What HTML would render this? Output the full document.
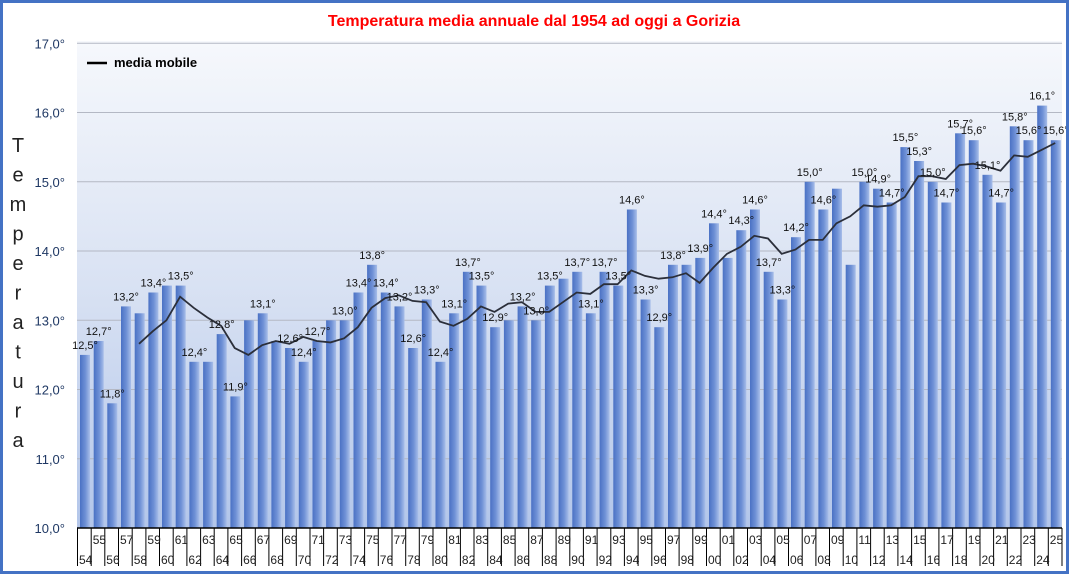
<!DOCTYPE html>
<html><head><meta charset="utf-8"><style>
html,body{margin:0;padding:0;background:#fff}
#w{position:relative;width:1069px;height:574px;overflow:hidden}
svg text{font-family:"Liberation Sans",sans-serif}
</style></head><body><div id="w">
<svg id="s" width="1069" height="574" xmlns="http://www.w3.org/2000/svg">
<defs>
<linearGradient id="bg" x1="0" y1="0" x2="0" y2="1"><stop offset="0" stop-color="#f6f8fc"/><stop offset="0.5" stop-color="#d9e2f3"/><stop offset="1" stop-color="#b3c6ea"/></linearGradient>
<linearGradient id="bar" x1="0" y1="0" x2="1" y2="0"><stop offset="0" stop-color="#4a71c4"/><stop offset="0.55" stop-color="#6f91d6"/><stop offset="1" stop-color="#a8bee9"/></linearGradient>
</defs>
<rect x="0" y="0" width="1069" height="574" fill="#fff"/>
<rect x="77" y="41" width="985" height="487" fill="url(#bg)"/>
<g id="g"></g>
<rect x="1.5" y="1.5" width="1066" height="571" fill="none" stroke="#4472c4" stroke-width="3"/>
<text x="534" y="26" text-anchor="middle" font-size="16" font-weight="bold" fill="#ff0000">Temperatura media annuale dal 1954 ad oggi a Gorizia</text>
<line x1="87" y1="63" x2="107" y2="63" stroke="#000" stroke-width="2.5"/>
<text x="114" y="67" font-size="13" font-weight="bold" fill="#000">media mobile</text>
</svg></div>
<script>
var v=[12.5,12.7,11.8,13.2,13.1,13.4,13.5,13.5,12.4,12.4,12.8,11.9,13.0,13.1,12.7,12.6,12.4,12.7,13.0,13.0,13.4,13.8,13.4,13.2,12.6,13.3,12.4,13.1,13.7,13.5,12.9,13.0,13.2,13.0,13.5,13.6,13.7,13.1,13.7,13.5,14.6,13.3,12.9,13.8,13.8,13.9,14.4,13.9,14.3,14.6,13.7,13.3,14.2,15.0,14.6,14.9,13.8,15.0,14.9,14.7,15.5,15.3,15.0,14.7,15.7,15.6,15.1,14.7,15.8,15.6,16.1,15.6];
var nolab=[1958,1960,1963,1966,1968,1972,1985,1989,1998,2001,2009,2010];
var x0=77.5,st=(1062-77.5)/72;
function Y(t){return 528-(t-10)*69.25;}
var h='';
for(var t=10;t<=17;t++){var y=Y(t);
 if(t>10)h+='<line x1="77" x2="1062" y1="'+y+'" y2="'+y+'" stroke="#b4b8c4" stroke-width="1"/>';
 h+='<text x="65" y="'+(y+5)+'" text-anchor="end" font-size="13" fill="#1f3864">'+t+',0°</text>';}
var L='Temperatura';
for(var i=0;i<L.length;i++)h+='<text x="18" y="'+(152+i*29.5)+'" text-anchor="middle" font-size="20" fill="#222">'+L[i]+'</text>';
for(var i=0;i<72;i++){var bx=x0+i*st+2.5,y=Y(v[i]);
 h+='<rect x="'+bx.toFixed(1)+'" y="'+y.toFixed(1)+'" width="10" height="'+(528-y).toFixed(1)+'" fill="url(#bar)"/>';}
var p=[];
for(var i=4;i<72;i++){var s=0;for(var k=i-4;k<=i;k++)s+=v[k];p.push((x0+i*st+st/2).toFixed(1)+','+Y(s/5).toFixed(1));}
h+='<polyline points="'+p.join(' ')+'" fill="none" stroke="#2b2f3a" stroke-width="1.8"/>';
for(var i=0;i<72;i++){var yr=1954+i;if(nolab.indexOf(yr)>=0)continue;
 var cx=x0+i*st+7.5,y=Y(v[i]);
 h+='<text x="'+cx.toFixed(1)+'" y="'+(y-6).toFixed(1)+'" text-anchor="middle" font-size="11" fill="#111">'+v[i].toFixed(1).replace('.',',')+'°</text>';}
h+='<line x1="77" x2="1062" y1="528" y2="528" stroke="#000" stroke-width="1.5"/>';
for(var i=0;i<=72;i++){var x=(x0+i*st).toFixed(1);
 h+='<line x1="'+x+'" x2="'+x+'" y1="528" y2="566" stroke="#000" stroke-width="1"/>';}
for(var i=0;i<72;i++){var yr=(1954+i)%100;var s=(yr<10?'0':'')+yr;var x=x0+i*st+1.5;
 var y=(i%2==1)?544:564;
 h+='<text x="'+x.toFixed(1)+'" y="'+y+'" font-size="12" fill="#222">'+s+'</text>';}
document.getElementById('g').innerHTML=h;
</script>
</body></html>
